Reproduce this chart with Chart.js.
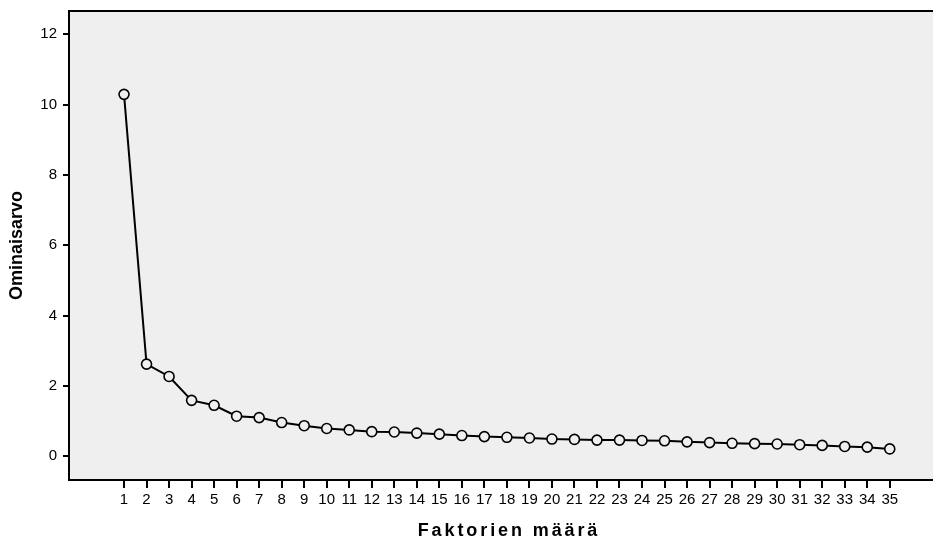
<!DOCTYPE html>
<html>
<head>
<meta charset="utf-8">
<script src="https://cdn.jsdelivr.net/npm/chart.js@4"></script>
<style>
html,body{margin:0;padding:0;background:#fff;}
canvas{display:block;}
</style>
</head>
<body>
<canvas id="c" width="933" height="539"></canvas>
<script>
const factors = [1,2,3,4,5,6,7,8,9,10,11,12,13,14,15,16,17,18,19,20,21,22,23,24,25,26,27,28,29,30,31,32,33,34,35];
const eigenvalues = [10.29,2.62,2.27,1.59,1.45,1.14,1.10,0.96,0.87,0.79,0.75,0.70,0.69,0.66,0.63,0.59,0.56,0.54,0.52,0.49,0.48,0.46,0.46,0.45,0.44,0.41,0.39,0.37,0.36,0.35,0.33,0.31,0.28,0.26,0.21];
const yTickValues = [0,2,4,6,8,10,12];
const xTitle = 'Faktorien määrä';
const yTitle = 'Ominaisarvo';

const FONT = "'Liberation Sans', Arial, sans-serif";

const plotBg = {
  id: 'plotBg',
  beforeDraw(chart) {
    const {ctx, chartArea: a} = chart;
    ctx.save();
    ctx.fillStyle = '#efefef';
    ctx.fillRect(a.left, a.top, a.right - a.left, a.bottom - a.top);
    ctx.restore();
  },
  afterDraw(chart) {
    const {ctx, chartArea: a} = chart;
    ctx.save();
    ctx.strokeStyle = '#000';
    ctx.lineWidth = 2;
    ctx.beginPath();
    ctx.moveTo(a.left - 1, a.top);
    ctx.lineTo(a.right, a.top);
    ctx.stroke();
    // x axis title with letter spacing
    ctx.fillStyle = '#000';
    ctx.font = "bold 18px " + FONT;
    try { ctx.letterSpacing = '2.9px'; } catch (e) {}
    ctx.textAlign = 'center';
    ctx.textBaseline = 'alphabetic';
    ctx.fillText(xTitle, 509, 536);
    ctx.restore();
  }
};

new Chart(document.getElementById('c'), {
  type: 'line',
  data: {
    datasets: [{
      data: factors.map((f, i) => ({x: f, y: eigenvalues[i]})),
      borderColor: '#000',
      borderWidth: 2,
      pointRadius: 5,
      pointBorderWidth: 1.6,
      pointBorderColor: '#000',
      pointBackgroundColor: '#efefef',
      pointHoverRadius: 5,
      tension: 0,
      fill: false
    }]
  },
  options: {
    responsive: false,
    animation: false,
    events: [],
    layout: {autoPadding: false, padding: {top: 11, left: 0, right: 0, bottom: 0}},
    plugins: {legend: {display: false}, tooltip: {enabled: false}},
    scales: {
      x: {
        type: 'linear',
        min: -1.443,
        max: 36.92,
        afterBuildTicks(scale) { scale.ticks = factors.map(v => ({value: v})); },
        afterFit(scale) { scale.height = 59; scale.paddingLeft = 0; scale.paddingRight = 0; },
        grid: {display: true, drawOnChartArea: false, drawTicks: true, tickLength: 8, color: '#000', lineWidth: 2},
        border: {display: true, color: '#000', width: 2},
        ticks: {autoSkip: false, maxRotation: 0, minRotation: 0, color: '#000', padding: 3, font: {family: FONT, size: 15}},
        title: {display: false}
      },
      y: {
        type: 'linear',
        min: -0.674,
        max: 12.66,
        afterBuildTicks(scale) { scale.ticks = yTickValues.map(v => ({value: v})); },
        afterFit(scale) { scale.width = 69; scale.paddingTop = 0; scale.paddingBottom = 0; },
        grid: {display: true, drawOnChartArea: false, drawTicks: true, tickLength: 6, color: '#000', lineWidth: 2},
        border: {display: true, color: '#000', width: 2},
        ticks: {color: '#000', padding: 6, font: {family: FONT, size: 15}},
        title: {display: true, text: yTitle, color: '#000', padding: {top: 6, bottom: 0}, font: {family: FONT, size: 18, weight: 'bold'}}
      }
    }
  },
  plugins: [plotBg]
});
</script>
</body>
</html>
